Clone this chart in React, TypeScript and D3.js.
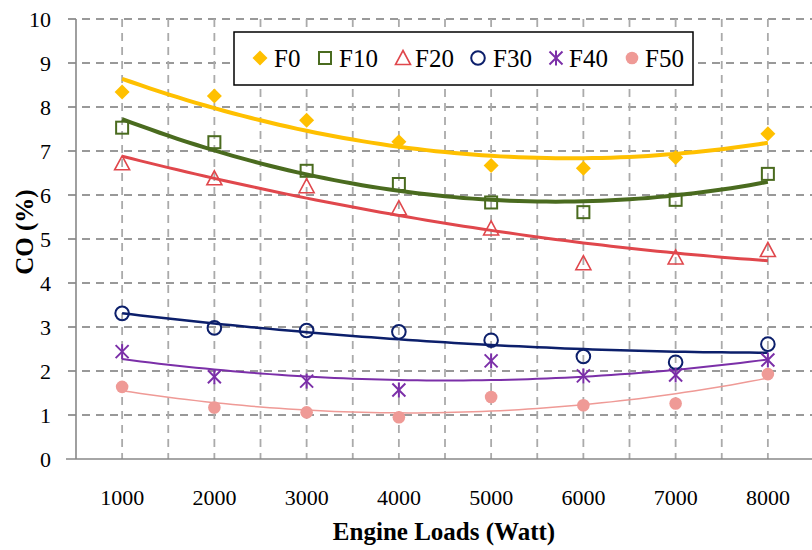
import React from "react";
import * as d3 from "d3";

const loads = [1000, 2000, 3000, 4000, 5000, 6000, 7000, 8000];
const yTicks = [0, 1, 2, 3, 4, 5, 6, 7, 8, 9, 10];
const seriesNames = ["F0", "F10", "F20", "F30", "F40", "F50"];
const F0 = [8.34, 8.25, 7.7, 7.21, 6.67, 6.61, 6.85, 7.39];
const F10 = [7.53, 7.2, 6.55, 6.25, 5.83, 5.61, 5.89, 6.48];
const F20 = [6.72, 6.38, 6.2, 5.7, 5.24, 4.45, 4.58, 4.75];
const F30 = [3.31, 2.98, 2.92, 2.89, 2.7, 2.33, 2.2, 2.61];
const F40 = [2.44, 1.87, 1.77, 1.57, 2.23, 1.89, 1.91, 2.25];
const F50 = [1.64, 1.17, 1.06, 0.95, 1.41, 1.22, 1.26, 1.93];
const seriesValues = [F0, F10, F20, F30, F40, F50];
const colors = ["#FFC000", "#4A6B1F", "#E0474C", "#0C1F6B", "#7B2FA8", "#EF9A96"];
const markerColors = ["#FFC000", "#4A6B1F", "#E0474C", "#0C1F6B", "#7B2FA8", "#EF9A96"];
const trendWidths = [4, 4, 3, 2.5, 2, 1.5];
const markerTypes = ["diamond", "square", "triangle", "circle", "asterisk", "dot"];

function quadFit(xs: number[], ys: number[]) {
  const n = xs.length;
  let s0 = n, s1 = 0, s2 = 0, s3 = 0, s4 = 0, t0 = 0, t1 = 0, t2 = 0;
  xs.forEach((x, i) => {
    const y = ys[i];
    s1 += x; s2 += x * x; s3 += x * x * x; s4 += x * x * x * x;
    t0 += y; t1 += x * y; t2 += x * x * y;
  });
  const M = [
    [s0, s1, s2, t0],
    [s1, s2, s3, t1],
    [s2, s3, s4, t2],
  ];
  for (let i = 0; i < 3; i++) {
    let p = i;
    for (let r = i + 1; r < 3; r++) if (Math.abs(M[r][i]) > Math.abs(M[p][i])) p = r;
    [M[i], M[p]] = [M[p], M[i]];
    for (let r = 0; r < 3; r++) {
      if (r === i) continue;
      const f = M[r][i] / M[i][i];
      for (let c = i; c < 4; c++) M[r][c] -= f * M[i][c];
    }
  }
  const a = M[0][3] / M[0][0], b = M[1][3] / M[1][1], c = M[2][3] / M[2][2];
  return (x: number) => a + b * x + c * x * x;
}

function Marker({ type, x, y, color }: { type: string; x: number; y: number; color: string }) {
  switch (type) {
    case "diamond":
      return <path d={`M${x},${y - 7.5}L${x + 7.5},${y}L${x},${y + 7.5}L${x - 7.5},${y}Z`} fill={color} />;
    case "square":
      return <rect x={x - 6} y={y - 6} width={12} height={12} fill="none" stroke={color} strokeWidth={2} />;
    case "triangle":
      return <path d={`M${x},${y - 7.5}L${x + 7.5},${y + 6.5}L${x - 7.5},${y + 6.5}Z`} fill="none" stroke={color} strokeWidth={1.6} />;
    case "circle":
      return <circle cx={x} cy={y} r={6.8} fill="none" stroke={color} strokeWidth={2} />;
    case "asterisk":
      return (
        <g stroke={color} strokeWidth={2}>
          <line x1={x - 6.5} y1={y - 6.5} x2={x + 6.5} y2={y + 6.5} />
          <line x1={x - 6.5} y1={y + 6.5} x2={x + 6.5} y2={y - 6.5} />
          <line x1={x} y1={y - 7.5} x2={x} y2={y + 7.5} />
        </g>
      );
    default:
      return <circle cx={x} cy={y} r={6.3} fill={color} />;
  }
}

export default function App() {
  const W = 812, H = 550;
  const left = 76, top = 19, bottom = 459;
  const x = d3.scaleLinear().domain([500, 8500]).range([left, 814]);
  const y = d3.scaleLinear().domain([0, 10]).range([bottom, top]);
  const font = "'Palatino Linotype','Book Antiqua',Palatino,'Liberation Serif',serif";
  const vGrid = d3.range(500, 8501, 500).filter((v) => v > 500);
  const line = d3.line<[number, number]>().x((d) => x(d[0])).y((d) => y(d[1]));
  const idx = loads.map((_, i) => i + 1);
  const samples = d3.range(0, 71).map((k) => 1 + (k * 7) / 70);

  const legendX = [260, 325, 403, 478, 556, 632];
  const legendTextX = [274, 339, 415, 493, 569, 645];

  return (
    <svg width={W} height={H} style={{ position: "absolute", left: 0, top: 0, background: "#fff" }} fontFamily={font}>
      {yTicks.filter((t) => t > 0).map((t) => (
        <line key={"h" + t} x1={68} x2={W} y1={y(t)} y2={y(t)} stroke="#999" strokeWidth={1.8} strokeDasharray="8,6" />
      ))}
      {vGrid.map((v) => (
        <line key={"v" + v} x1={x(v)} x2={x(v)} y1={top} y2={bottom} stroke="#aaa" strokeWidth={1.8} strokeDasharray="8,6" />
      ))}
      <line x1={left} x2={left} y1={top} y2={bottom} stroke="#888" strokeWidth={1.6} />
      <line x1={66} x2={W} y1={bottom} y2={bottom} stroke="#888" strokeWidth={1.6} />
      {yTicks.map((t) => (
        <text key={"yl" + t} x={51} y={y(t)} dy="0.35em" textAnchor="end" fontSize={22} fill="#000">
          {t}
        </text>
      ))}
      {loads.map((l) => (
        <text key={"xl" + l} x={x(l)} y={497} dy="0.35em" textAnchor="middle" fontSize={22} fill="#000">
          {l}
        </text>
      ))}
      <text x={444} y={531} dy="0.35em" textAnchor="middle" fontSize={25} fontWeight="bold">
        Engine Loads (Watt)
      </text>
      <text transform={`translate(24,232) rotate(-90)`} dy="0.35em" textAnchor="middle" fontSize={25} fontWeight="bold">
        CO (%)
      </text>
      {seriesValues.map((vals, si) => {
        const f = quadFit(idx, vals);
        const pts: [number, number][] = samples.map((s) => [s * 1000, f(s)]);
        return <path key={"t" + si} d={line(pts) || ""} fill="none" stroke={colors[si]} strokeWidth={trendWidths[si]} />;
      })}
      {seriesValues.map((vals, si) => (
        <g key={"m" + si}>
          {vals.map((v, i) => (
            <Marker key={i} type={markerTypes[si]} x={x(loads[i])} y={y(v)} color={markerColors[si]} />
          ))}
        </g>
      ))}
      <rect x={234} y={32} width={459} height={53} fill="#fff" stroke="#000" strokeWidth={1.5} />
      {seriesNames.map((n, i) => (
        <g key={"lg" + n}>
          <Marker type={markerTypes[i]} x={legendX[i]} y={58} color={markerColors[i]} />
          <text x={legendTextX[i]} y={58} dy="0.35em" fontSize={25} fill="#000">
            {n}
          </text>
        </g>
      ))}
    </svg>
  );
}
